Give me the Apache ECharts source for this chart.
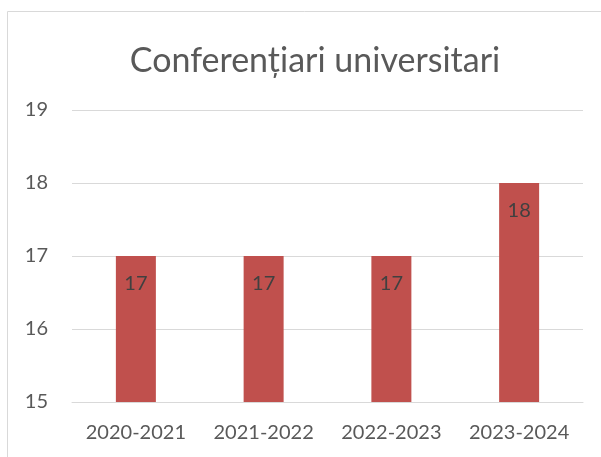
<!DOCTYPE html>
<html>
<head>
<meta charset="utf-8">
<script src="https://cdn.jsdelivr.net/npm/echarts@6/dist/echarts.min.js"></script>
<style>
  html, body { margin: 0; padding: 0; background: #fff; }
  #chart { width: 601px; height: 457px; }
</style>
</head>
<body>
<div id="chart"></div>
<script>
// data
const categories = ["2020-2021", "2021-2022", "2022-2023", "2023-2024"];
const values = [17, 17, 17, 18];
const yMin = 15;
const yMax = 19;

const font = "Lato, 'Open Sans', sans-serif";
const chart = echarts.init(document.getElementById("chart"));
chart.setOption({
  animation: false,
  title: {
    text: "Conferențiari universitari",
    left: 310,
    textAlign: "center",
    top: 39,
    textStyle: { color: "#595959", fontSize: 34, fontWeight: "normal", fontFamily: font },
  },
  graphic: [
    {
      type: "rect",
      shape: { x: 7.5, y: 11.5, width: 620, height: 470 },
      style: { fill: "none", stroke: "#d9d9d9", lineWidth: 1 },
      silent: true,
    },
  ],
  grid: { left: 72, right: 18, top: 110, height: 292 },
  xAxis: {
    type: "category",
    data: categories,
    axisLine: { show: true, lineStyle: { color: "#d9d9d9", width: 1 } },
    axisTick: { show: false },
    axisLabel: { color: "#595959", fontSize: 20, fontFamily: font, margin: 21, interval: 0 },
  },
  yAxis: {
    type: "value",
    min: yMin,
    max: yMax,
    interval: 1,
    axisLine: { show: false },
    axisTick: { show: false },
    splitLine: { lineStyle: { color: "#d9d9d9", width: 1 } },
    axisLabel: { color: "#595959", fontSize: 20, fontFamily: font, margin: 24, align: "right" },
  },
  series: [
    {
      type: "bar",
      data: values,
      barWidth: 40,
      itemStyle: { color: "#c0504d" },
      label: {
        show: true,
        position: "insideTop",
        distance: 18,
        color: "#404040",
        fontSize: 20,
        fontFamily: font,
      },
    },
  ],
});
</script>
</body>
</html>
